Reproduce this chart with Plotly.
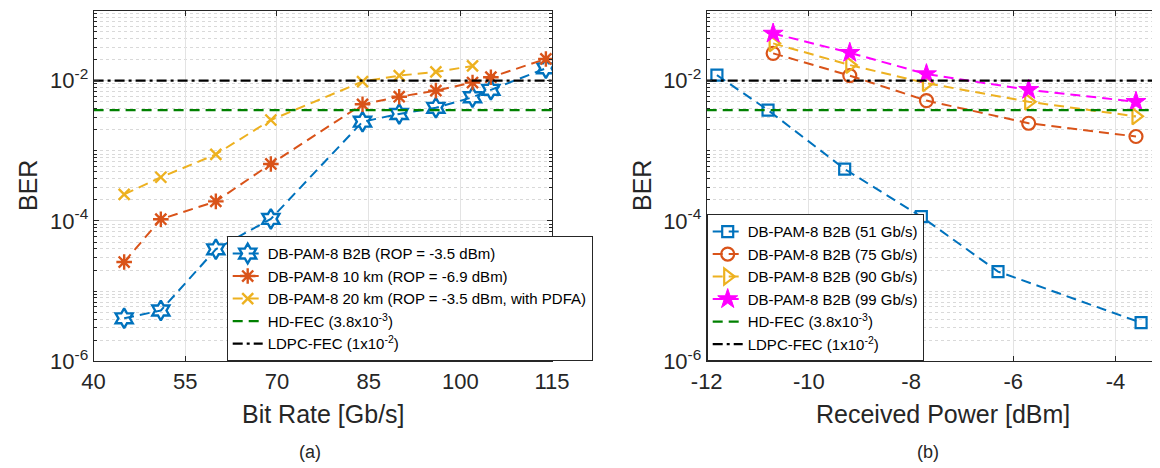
import plotly.graph_objects as go

# ---------------- data: panel (a) ----------------
rate_b2b = [45, 51, 60, 69, 84, 90, 96, 102, 105, 114]
ber_b2b = [4.1e-6, 5.3e-6, 3.95e-5, 1.07e-4, 2.6e-3, 3.35e-3, 4.1e-3, 5.8e-3, 7.4e-3, 1.5e-2]
rate_10km = [45, 51, 60, 69, 84, 90, 96, 102, 105, 114]
ber_10km = [2.6e-5, 1.06e-4, 1.9e-4, 6.5e-4, 4.6e-3, 5.9e-3, 7.2e-3, 9.4e-3, 1.12e-2, 2.04e-2]
rate_20km = [45, 51, 60, 69, 84, 90, 96, 102]
ber_20km = [2.4e-4, 4.2e-4, 8.9e-4, 2.75e-3, 9.7e-3, 1.18e-2, 1.33e-2, 1.62e-2]

# ---------------- data: panel (b) ----------------
pw_51 = [-11.8, -10.8, -9.3, -7.8, -6.3, -3.5]
ber_51 = [1.2e-2, 3.8e-3, 5.5e-4, 1.15e-4, 1.9e-5, 3.55e-6]
pw_hi = [-10.7, -9.2, -7.7, -5.7, -3.6]
ber_75 = [2.45e-2, 1.18e-2, 5.2e-3, 2.47e-3, 1.6e-3]
ber_90 = [3.4e-2, 1.67e-2, 9.2e-3, 5.0e-3, 3.1e-3]
ber_99 = [4.7e-2, 2.5e-2, 1.24e-2, 7.4e-3, 5.0e-3]

# thresholds
hd_fec = 3.8e-3
ldpc_fec = 1e-2

# axes
xrange_a = [40, 115]
xticks_a = [40, 55, 70, 85, 100, 115]
xrange_b = [-12, -3.13]
xticks_b = [-12, -10, -8, -6, -4]
xtick_text_b = ["-12", "-10", "-8", "-6", "-4"]
yticks = [1e-6, 1e-4, 1e-2]
ytick_text = ["10<sup>-6</sup>", "10<sup>-4</sup>", "10<sup>-2</sup>"]

BLUE = "#0072BD"
ORANGE = "#D95319"
YELLOW = "#EDB120"
MAGENTA = "#FF00FF"
GREEN = "#008000"
BLACK = "#000000"
AXC = "#262626"
FONT = "Liberation Sans, Arial, sans-serif"

DASH = "10px,6px"
DASHDOT = "10px,4px,3px,4px"

# the page body has an 8px margin: lay out in window pixels, shifted
OFF = 8
W, H = 1160 - OFF, 468 - OFF


def px(x):
    return (x - OFF) / W


def py(y):
    return 1 - (y - OFF) / H


fig = go.Figure()


def series(x, y, name, color, symbol, size, xa, ya, legend, lw=2.0, mlw=2.0):
    fig.add_trace(go.Scatter(
        x=x, y=y, name=name, mode="lines+markers",
        line=dict(color=color, width=lw, dash=DASH),
        marker=dict(symbol=symbol, size=size, color=color,
                    line=dict(color=color, width=mlw)),
        xaxis=xa, yaxis=ya, legend=legend,
    ))


def thresh(xr, val, name, color, dash, xa, ya, legend):
    fig.add_trace(go.Scatter(
        x=xr, y=[val, val], name=name, mode="lines",
        line=dict(color=color, width=2.2, dash=dash),
        xaxis=xa, yaxis=ya, legend=legend,
    ))


# panel (a)
series(rate_b2b, ber_b2b, "DB-PAM-8 B2B (ROP = -3.5 dBm)", BLUE, "hexagram-open", 15, "x", "y", "legend", mlw=2.4)
series(rate_10km, ber_10km, "DB-PAM-8 10 km (ROP = -6.9 dBm)", ORANGE, "asterisk-open", 13, "x", "y", "legend", mlw=2.4)
series(rate_20km, ber_20km, "DB-PAM-8 20 km (ROP = -3.5 dBm, with PDFA)", YELLOW, "x-thin-open", 11, "x", "y", "legend", mlw=2.4)
thresh(xrange_a, hd_fec, "HD-FEC (3.8x10<sup>-3</sup>)", GREEN, DASH, "x", "y", "legend")
thresh(xrange_a, ldpc_fec, "LDPC-FEC (1x10<sup>-2</sup>)", BLACK, DASHDOT, "x", "y", "legend")

# panel (b)
series(pw_51, ber_51, "DB-PAM-8 B2B (51 Gb/s)", BLUE, "square-open", 11, "x2", "y2", "legend2", mlw=2.2)
series(pw_hi, ber_75, "DB-PAM-8 B2B (75 Gb/s)", ORANGE, "circle-open", 13, "x2", "y2", "legend2", mlw=2.2)
series(pw_hi, ber_90, "DB-PAM-8 B2B (90 Gb/s)", YELLOW, "triangle-right-open", 14, "x2", "y2", "legend2", mlw=2.2)
series(pw_hi, ber_99, "DB-PAM-8 B2B (99 Gb/s)", MAGENTA, "star", 15, "x2", "y2", "legend2", mlw=1.0)
thresh(xrange_b, hd_fec, "HD-FEC (3.8x10<sup>-3</sup>)", GREEN, DASH, "x2", "y2", "legend2")
thresh(xrange_b, ldpc_fec, "LDPC-FEC (1x10<sup>-2</sup>)", BLACK, DASHDOT, "x2", "y2", "legend2")

Y_TOP, Y_BOT = 10.5, 361.3
ydom = [py(Y_BOT), py(Y_TOP)]

minor_vals = []
for k in range(-6, -1):
    for m in range(1, 10):
        if m == 1 and k in (-6, -4, -2):
            continue
        minor_vals.append(m * 10.0 ** k)

yaxis_common = dict(
    type="log", range=[-6, -1], domain=ydom, automargin=False,
    tickmode="array", tickvals=yticks, ticktext=ytick_text,
    ticks="inside", ticklen=5, tickwidth=1, tickcolor=AXC,
    showline=True, linecolor=AXC, linewidth=1, mirror="ticks",
    showgrid=True, gridcolor="#e3e3e3", gridwidth=1,
    zeroline=False,
    tickfont=dict(family=FONT, size=22, color=AXC),
    minor=dict(tickmode="array", tickvals=minor_vals, ticks="inside", ticklen=3,
               tickcolor=AXC, showgrid=True, gridcolor="#d9d9d9", griddash="dot", gridwidth=1),
)
xaxis_common = dict(
    automargin=False,
    ticks="inside", ticklen=5, tickwidth=1, tickcolor=AXC,
    showline=True, linecolor=AXC, linewidth=1, mirror="ticks",
    showgrid=True, gridcolor="#e3e3e3", gridwidth=1,
    zeroline=False,
    tickfont=dict(family=FONT, size=22, color=AXC),
)

legend_common = dict(
    xanchor="left", yanchor="bottom",
    bgcolor="white", bordercolor=AXC, borderwidth=1,
    font=dict(family=FONT, size=15, color="#000000"),
    itemwidth=30, tracegroupgap=0,
)

fig.update_layout(
    width=W, height=H,
    margin=dict(l=0, r=0, t=0, b=0, autoexpand=False),
    paper_bgcolor="white", plot_bgcolor="white",
    font=dict(family=FONT, color=AXC),
    xaxis=dict(xaxis_common, domain=[px(93.6), px(552)], range=xrange_a,
               tickmode="array", tickvals=xticks_a, anchor="y"),
    yaxis=dict(yaxis_common, anchor="x"),
    xaxis2=dict(xaxis_common, domain=[px(706.7), 1.0], range=xrange_b,
                tickmode="array", tickvals=xticks_b, ticktext=xtick_text_b, anchor="y2"),
    yaxis2=dict(yaxis_common, anchor="x2"),
    legend=dict(legend_common, x=px(226.7), y=py(Y_BOT)),
    legend2=dict(legend_common, x=px(706.7), y=py(Y_BOT)),
    showlegend=True,
    annotations=[
        dict(text="Bit Rate [Gb/s]", x=px(323), y=py(414), xref="paper", yref="paper",
             showarrow=False, font=dict(family=FONT, size=25, color=AXC), xanchor="center", yanchor="middle"),
        dict(text="Received Power [dBm]", x=px(943), y=py(414), xref="paper", yref="paper",
             showarrow=False, font=dict(family=FONT, size=25, color=AXC), xanchor="center", yanchor="middle"),
        dict(text="BER", x=px(28), y=py(186), xref="paper", yref="paper", textangle=-90,
             showarrow=False, font=dict(family=FONT, size=25, color=AXC), xanchor="center", yanchor="middle"),
        dict(text="BER", x=px(642), y=py(186), xref="paper", yref="paper", textangle=-90,
             showarrow=False, font=dict(family=FONT, size=25, color=AXC), xanchor="center", yanchor="middle"),
        dict(text="(a)", x=px(310), y=py(452), xref="paper", yref="paper",
             showarrow=False, font=dict(family=FONT, size=18, color=AXC), xanchor="center", yanchor="middle"),
        dict(text="(b)", x=px(928), y=py(452), xref="paper", yref="paper",
             showarrow=False, font=dict(family=FONT, size=18, color=AXC), xanchor="center", yanchor="middle"),
    ],
)

fig.write_html("out.html")
